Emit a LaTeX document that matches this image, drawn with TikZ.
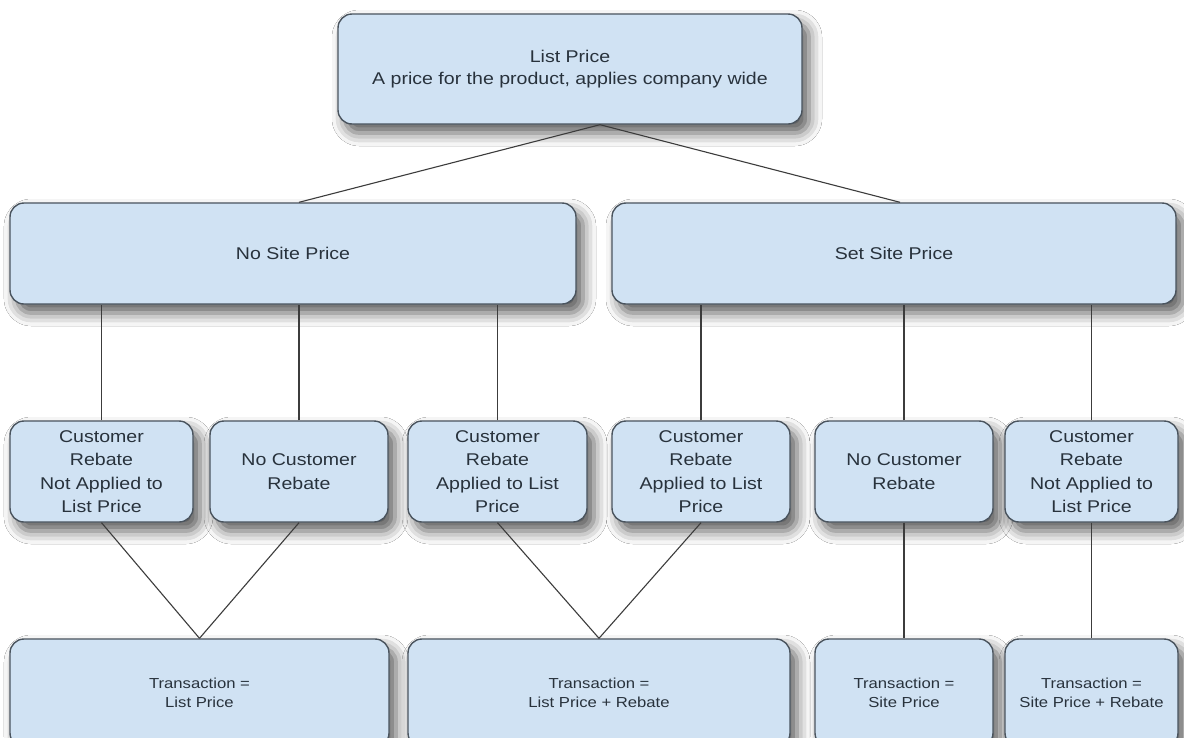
\documentclass[tikz,border=0pt]{standalone}
\usepackage{fontspec}
\setmainfont{Liberation Sans}[FakeStretch=1.15]
\usetikzlibrary{shadows.blur}
\definecolor{boxfill}{HTML}{D0E2F3}
\definecolor{boxline}{HTML}{4A545E}
\definecolor{txtcol}{HTML}{28323C}
\definecolor{conncol}{HTML}{3C3C3C}
\begin{document}
\begin{tikzpicture}[x=1pt,y=-1pt,
  box/.style={draw=boxline, line width=1.4pt, fill=boxfill, rounded corners=14pt,
    align=center, text=txtcol, font=\fontsize{17}{23.5}\selectfont, inner sep=0pt,
    blur shadow={shadow xshift=7pt, shadow yshift=-9pt, shadow blur radius=13pt, shadow opacity=65}},
  topfont/.style={font=\fontsize{17}{22}\selectfont},
  smallfont/.style={font=\fontsize{14.5}{19}\selectfont},
  conn/.style={draw=conncol, line width=1.1pt}]
\useasboundingbox (0,0) rectangle (1184,737);
\fill[white] (0,0) rectangle (1184,737);
% top
\node[box, topfont, minimum width=464pt, minimum height=110pt] (top) at (570,69)
  {List Price\\A price for the product, applies company wide};
% row 2
\node[box, minimum width=566pt, minimum height=101pt] (nosite) at (293,253.5) {No Site Price};
\node[box, minimum width=564pt, minimum height=101pt] (setsite) at (894,253.5) {Set Site Price};
% row 3
\node[box, minimum width=183pt, minimum height=101pt] (r1) at (101.5,471.5) {Customer\\Rebate\\Not Applied to\\List Price};
\node[box, minimum width=178pt, minimum height=101pt] (r2) at (299,471.5) {No Customer\\Rebate};
\node[box, minimum width=179pt, minimum height=101pt] (r3) at (497.5,471.5) {Customer\\Rebate\\Applied to List\\Price};
\node[box, minimum width=178pt, minimum height=101pt] (r4) at (701,471.5) {Customer\\Rebate\\Applied to List\\Price};
\node[box, minimum width=178pt, minimum height=101pt] (r5) at (904,471.5) {No Customer\\Rebate};
\node[box, minimum width=173pt, minimum height=101pt] (r6) at (1091.5,471.5) {Customer\\Rebate\\Not Applied to\\List Price};
% row 4
\node[box, smallfont, minimum width=379pt, minimum height=108pt] (b1) at (199.5,693) {Transaction =\\List Price};
\node[box, smallfont, minimum width=382pt, minimum height=108pt] (b2) at (599,693) {Transaction =\\List Price + Rebate};
\node[box, smallfont, minimum width=178pt, minimum height=108pt] (b3) at (904,693) {Transaction =\\Site Price};
\node[box, smallfont, minimum width=173pt, minimum height=108pt] (b4) at (1091.5,693) {Transaction =\\Site Price + Rebate};
% connectors
\coordinate (apex) at ([xshift=30pt]top.south);
\draw[conn] (apex) -- (nosite.north -| r2.north);
\draw[conn] (apex) -- ([xshift=6pt]setsite.north);
\foreach \r in {r1,r2,r3} \draw[conn] (\r.north) -- (\r.north |- nosite.south);
\foreach \r in {r4,r5,r6} \draw[conn] (\r.north) -- (\r.north |- setsite.south);
\draw[conn] (r1.south) -- (b1.north);
\draw[conn] (r2.south) -- (b1.north);
\draw[conn] (r3.south) -- (b2.north);
\draw[conn] (r4.south) -- (b2.north);
\draw[conn] (r5.south) -- (b3.north);
\draw[conn] (r6.south) -- (b4.north);
\end{tikzpicture}
\end{document}
